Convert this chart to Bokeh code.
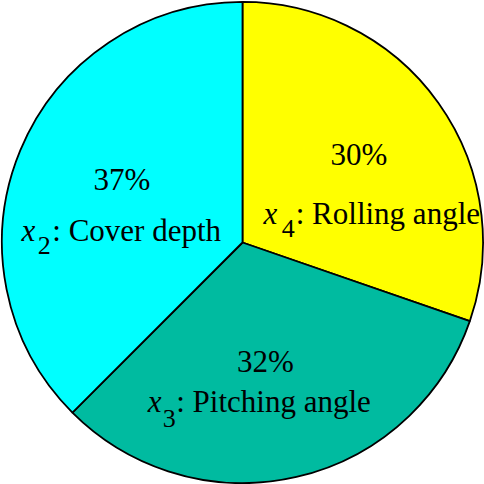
import math
from bokeh.plotting import figure
from bokeh.models import ColumnDataSource
from bokeh.core.properties import value
from bokeh.embed import file_html
from bokeh.resources import INLINE

# ---- data ----
names = [": Rolling angle", ": Cover depth", ": Pitching angle"]
subs = ["4", "2", "3"]
shares = [30.3, 37.5, 32.2]
pct_labels = ["30%", "37%", "32%"]
colors = ["#FFFF00", "#00FFFF", "#00BBA0"]

# drawing order clockwise from 12 o'clock: Rolling (yellow), Pitching (teal), Cover (cyan)
order = [0, 2, 1]

# ---- layout (label anchors in data units, radius = 1) ----
dy = 0.042
pct_pos = {0: (0.481, 0.320 + dy), 1: (-0.498, 0.220 + dy), 2: (0.095, -0.535 + dy)}
x_pos = {0: (0.087, 0.079 + dy), 1: (-0.913, 0.008 + dy), 2: (-0.392, -0.697 + dy)}
sub_pos = {0: (0.162, 0.017 + dy), 1: (-0.846, -0.054 + dy), 2: (-0.330, -0.768 + dy)}
rest_pos = {0: (0.220, 0.079 + dy), 1: (-0.786, 0.008 + dy), 2: (-0.274, -0.697 + dy)}

W = 484
p = figure(width=W, height=W, x_range=(-1, 1), y_range=(-1, 1),
           output_backend="svg", toolbar_location=None,
           min_border=0, outline_line_color=None)
p.axis.visible = False
p.grid.visible = False
p.background_fill_color = "white"
p.border_fill_color = "white"

total = sum(shares)
starts, ends, cols = [], [], []
a = math.pi / 2
for i in order:
    span = shares[i] / total * 2 * math.pi
    starts.append(a)
    ends.append(a - span)
    cols.append(colors[i])
    a -= span

src = ColumnDataSource(dict(x=[0] * 3, y=[0] * 3, s=starts, e=ends, c=cols))
p.wedge(x="x", y="y", radius=0.994, start_angle="s", end_angle="e",
        direction="clock", fill_color="c", line_color="black", line_width=1.8,
        source=src)

font = value("Liberation Serif")
F = "31px"
for i in range(3):
    px, py = pct_pos[i]
    p.text(x=[px], y=[py], text=[pct_labels[i]], text_font=font,
           text_font_size=F, text_align="center", text_baseline="alphabetic",
           text_color="black")
    xx, xy = x_pos[i]
    p.text(x=[xx], y=[xy], text=["x"], text_font=font, text_font_style="italic",
           text_font_size=F, text_align="left", text_baseline="alphabetic",
           text_color="black")
    sx, sy = sub_pos[i]
    p.text(x=[sx], y=[sy], text=[subs[i]], text_font=font,
           text_font_size="26px", text_align="left", text_baseline="alphabetic",
           text_color="black")
    rx, ry = rest_pos[i]
    p.text(x=[rx], y=[ry], text=[names[i]], text_font=font,
           text_font_size=F, text_align="left", text_baseline="alphabetic",
           text_color="black")

open("out.html", "w").write(file_html(p, INLINE))
